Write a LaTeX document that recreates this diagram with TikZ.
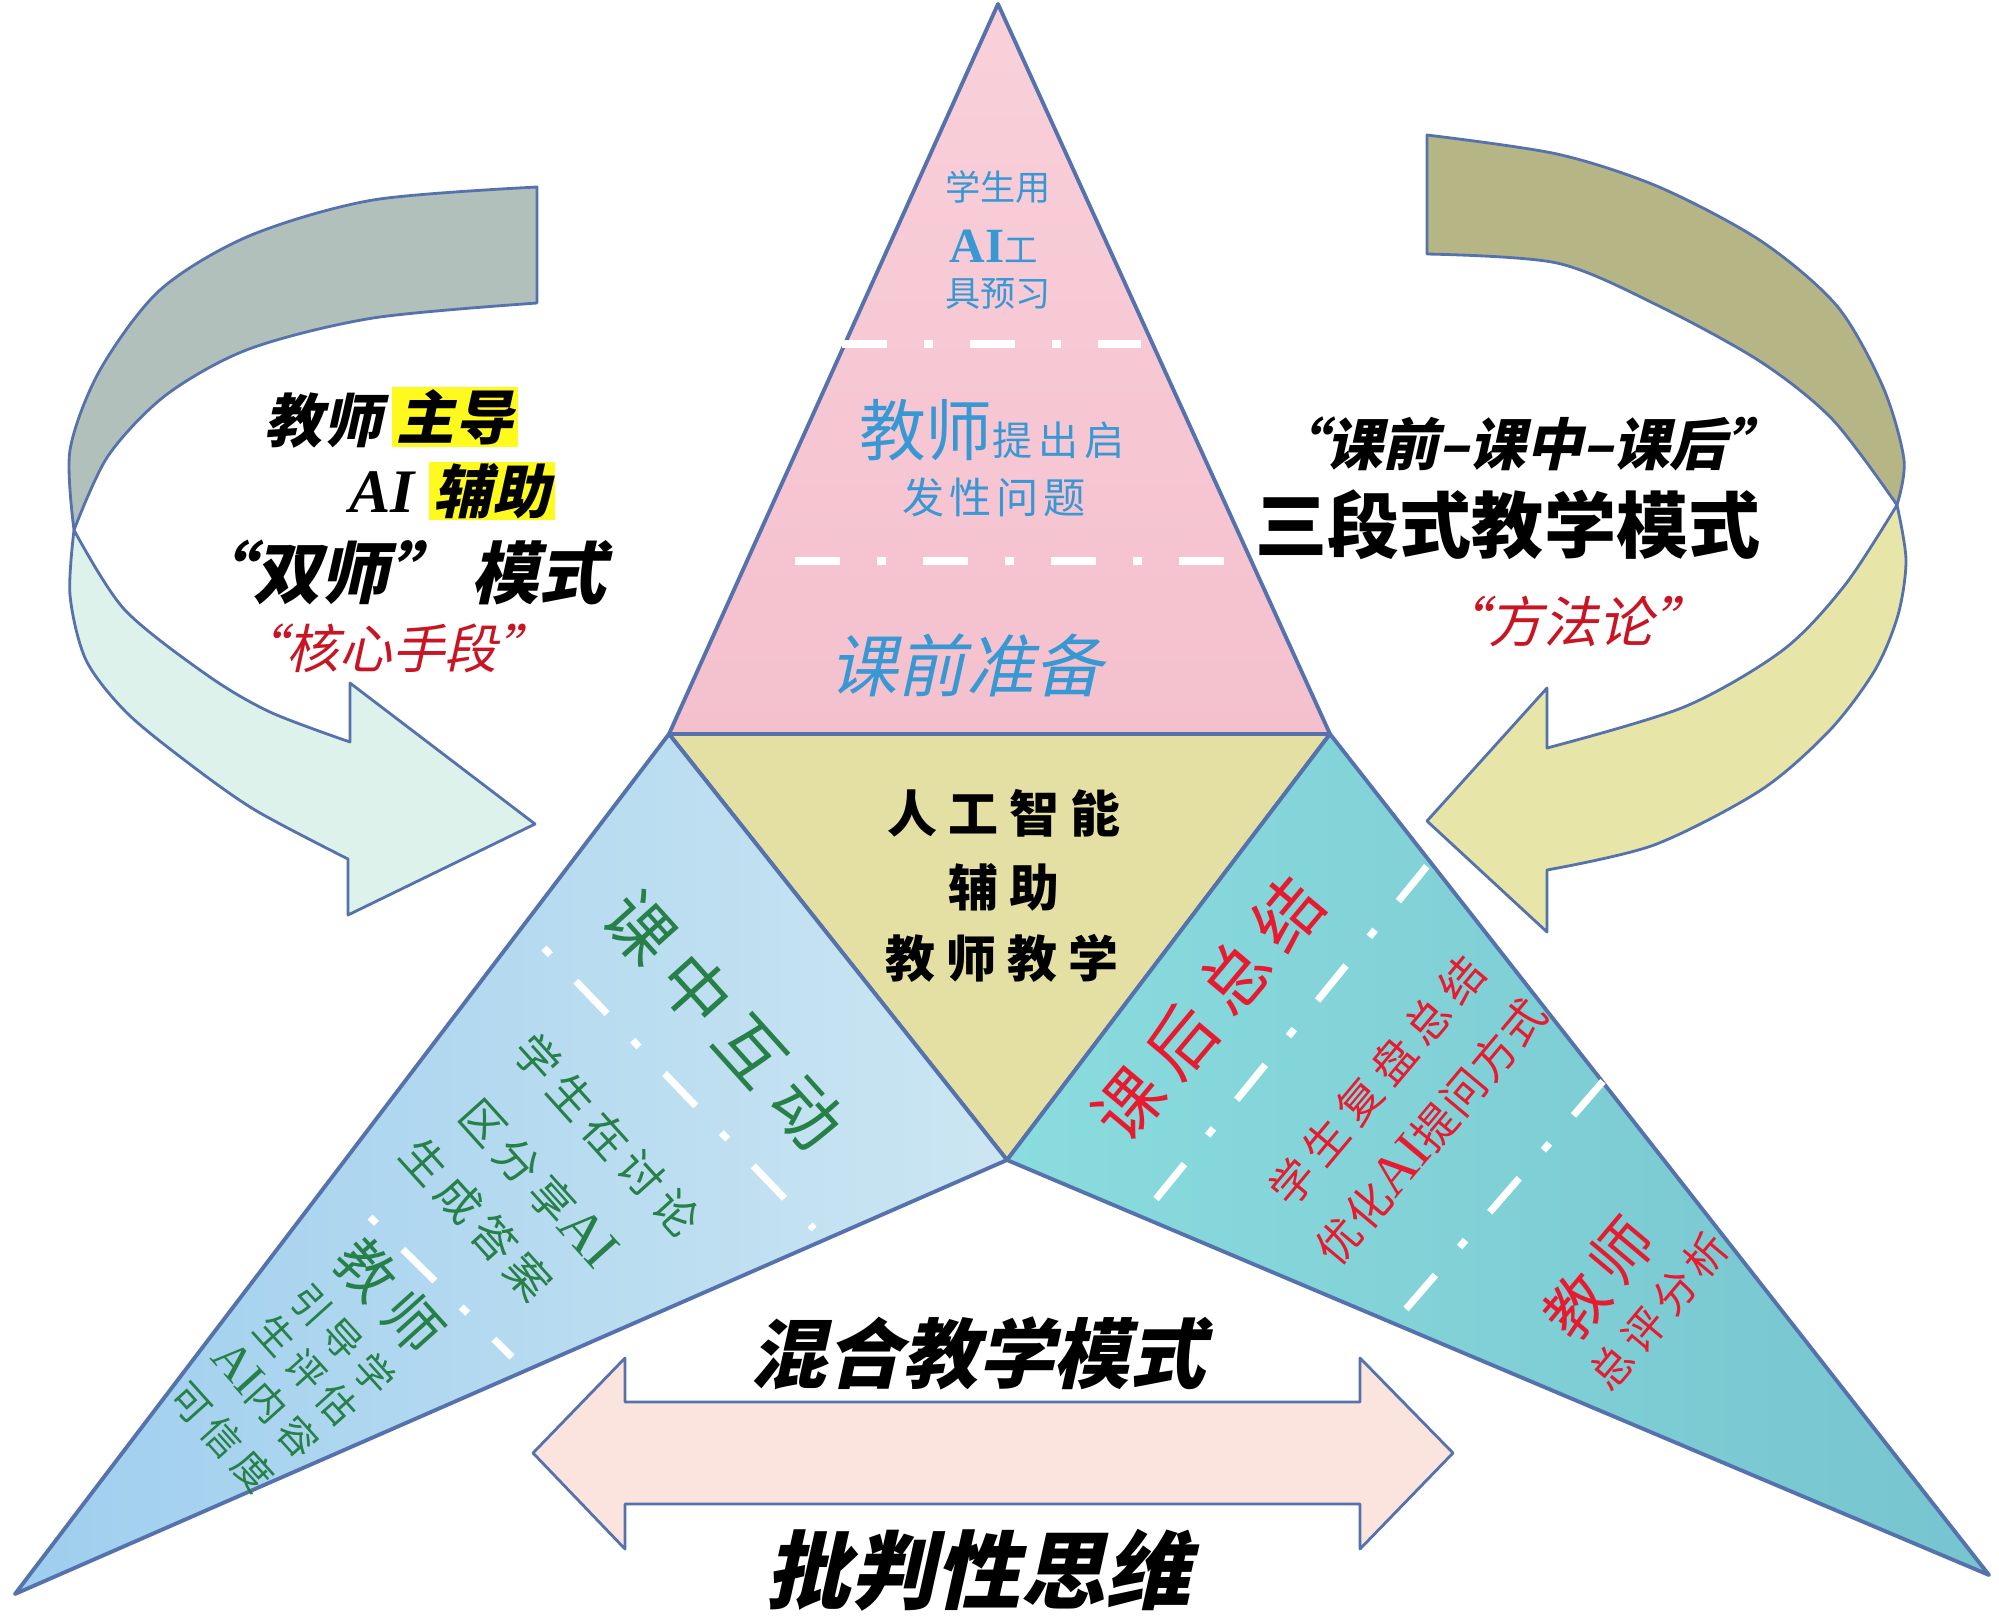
\documentclass[tikz,border=0pt]{standalone}
\usepackage{fontspec}
\usepackage{xcolor}
\usepackage{tikz}
\usetikzlibrary{positioning}
\newfontfamily\cjk{Noto Sans CJK SC}
\newfontfamily\cjkit{Noto Sans CJK SC}[FakeSlant=0.22]
\newfontfamily\latn{Liberation Serif}
\newcommand{\fsz}[1]{\fontsize{#1}{#1}\selectfont}
\newcommand{\trk}[1]{\addfontfeature{LetterSpace=#1}}
\definecolor{edgeblue}{RGB}{86,114,172}
\definecolor{pinktop}{RGB}{249,208,218}
\definecolor{pinkfill}{RGB}{244,192,205}
\definecolor{corefill}{RGB}{228,224,164}
\definecolor{bluetri}{RGB}{204,230,242}
\definecolor{bluetip}{RGB}{158,206,238}
\definecolor{tealtri}{RGB}{138,220,222}
\definecolor{tealtip}{RGB}{118,196,207}
\definecolor{sagedark}{RGB}{177,192,186}
\definecolor{mintlight}{RGB}{222,242,236}
\definecolor{olivedark}{RGB}{182,181,133}
\definecolor{olivelight}{RGB}{231,229,168}
\definecolor{arrowpink}{RGB}{252,228,222}
\definecolor{prepblue}{RGB}{55,152,212}
\definecolor{midgreen}{RGB}{38,128,72}
\definecolor{postred}{RGB}{232,26,48}
\definecolor{quotered}{RGB}{200,20,35}
\definecolor{hlyellow}{RGB}{255,250,30}
\tikzset{
  ribbon/.style={draw=edgeblue, line width=0.8pt, line join=round},
  facet/.style={draw=edgeblue, line width=1.1pt, line join=round},
  cut/.style={white, line width=2pt, dash pattern=on 12.8pt off 10.5pt on 2.6pt off 10.5pt},
  cutdot/.style={cut, dash phase=23.3pt},
  word/.style={inner sep=0pt, font=\cjk},
  slant/.style={inner sep=0pt, font=\cjkit},
}

\begin{document}
\begin{tikzpicture}[x=0.01cm, y=-0.01cm]
  \useasboundingbox (0,0) rectangle (1999,1617);
  \coordinate (apex) at (998,4);
  \coordinate (bl) at (669,734);
  \coordinate (br) at (1330,734);
  \coordinate (mid) at (1007,1160);
  \coordinate (ltip) at (15,1594);
  \coordinate (rtip) at (1989,1575);

  % loops
  \filldraw[ribbon, fill=sagedark] plot[smooth] coordinates {(537,187) (373,200) (249,236) (160,290) (100,370) (70,450) (74,530)}
    -- plot[smooth] coordinates {(74,530) (108,456) (166,395) (249,349) (373,318) (537,303)} -- cycle;
  \filldraw[ribbon, fill=mintlight] plot[smooth] coordinates {(74,530) (70,595) (86,660) (126,712) (187,762) (255,810) (348,859)}
    -- (348,915) -- (535,824) -- (350,683) -- (350,742)
    -- plot[smooth] coordinates {(350,742) (270,712) (207,675) (124,609) (74,530)} -- cycle;
  \filldraw[ribbon, fill=olivedark] plot[smooth] coordinates {(1427,135) (1557,154) (1659,187) (1761,241) (1837,306) (1883,387) (1904,460) (1897,505)}
    -- plot[smooth] coordinates {(1897,505) (1833,420) (1761,362) (1659,306) (1557,263) (1427,254)} -- cycle;
  \filldraw[ribbon, fill=olivelight] plot[smooth] coordinates {(1897,505) (1906,560) (1898,615) (1875,670) (1830,730) (1761,790) (1654,845) (1547,870)}
    -- (1547,932) -- (1427,821) -- (1547,688) -- (1547,748)
    -- plot[smooth] coordinates {(1547,748) (1684,707) (1783,650) (1845,585) (1897,505)} -- cycle;

  % pyramid
  \path[facet, top color=pinktop, bottom color=pinkfill] (apex) -- (bl) -- (br) -- cycle;
  \path[facet, fill=corefill] (bl) -- (br) -- (mid) -- cycle;
  \path[facet, left color=bluetip, right color=bluetri] (bl) -- (ltip) -- (mid) -- cycle;
  \path[facet, left color=tealtri, right color=tealtip] (br) -- (mid) -- (rtip) -- cycle;

  \filldraw[ribbon, fill=arrowpink] (533,1453) -- (625,1358) -- (625,1402) -- (1360,1402) -- (1360,1358) -- (1453,1453)
    -- (1360,1549) -- (1360,1504) -- (625,1504) -- (625,1549) -- cycle;

  \draw[cut] (842,344) -- (1141,344);
  \draw[cut] (795,561) -- (1230,561);
  \draw[cutdot] (544,948) -- (814,1229);
  \draw[cutdot] (370,1217) -- (512,1357);
  \draw[cut] (1156,1199) -- (1427,866);
  \draw[cut] (1406,1309) -- (1605,1079);

  % before class
  \node[word, text=prepblue] (pre1) at (998,187) {\fsz{10}学生用};
  \node[word, text=prepblue] (pre2) at (994,246) {{\latn\bfseries\fsz{14}AI}\fsz{9.5}工};
  \node[word, text=prepblue] (pre3) at (998,294) {\fsz{10}具预习};
  \node[word, text=prepblue] (pre4) at (992,430) {\fsz{19}教师\fsz{11.4}\trk{15}提出启};
  \node[word, text=prepblue] (pre5) at (994,497) {\fsz{12}\trk{12}发性问题};
  \node[slant, text=prepblue] (pre6) at (966,665) {\fsz{19.4}课前准备};

  \node[word] (core1) at (1004,813) {\bfseries\fsz{14.2}\trk{22}人工智能};
  \node[word] (core2) at (1004,887) {\bfseries\fsz{14.2}\trk{22}辅助};
  \node[word] (core3) at (1002,958) {\bfseries\fsz{14.2}\trk{22}教师教学};

  % in class
  \node[word, text=midgreen, rotate=-48] (mid1) at (724,1020) {\fsz{19.3}\trk{22}课中互动};
  \foreach \n/\x/\y/\t in {2/607/1135/学生在讨论, 3/538/1183/{区分享{\latn\fsz{16}AI}}, 4/477/1219/生成答案}
    \node[word, text=midgreen, rotate=-48] (mid\n) at (\x,\y) {\fsz{12.5}\trk{18}\t};
  \node[word, text=midgreen, rotate=-48] (mid5) at (390,1296) {\fsz{16.5}\trk{22}教师};
  \foreach \n/\x/\y/\t in {6/343/1339/引导学, 7/306/1370/生评估, 8/266/1400/{{\latn\fsz{14}AI}内容}, 9/222/1437/可信度}
    \node[word, text=midgreen, rotate=-48] (mid\n) at (\x,\y) {\fsz{11}\trk{20}\t};

  % after class
  \node[word, text=postred, rotate=50] (post1) at (1208,1009) {\fsz{19.3}\trk{22}课后总结};
  \node[word, text=postred, rotate=50] (post2) at (1377,1081) {\fsz{12.5}\trk{20}学生复盘总结};
  \node[word, text=postred, rotate=50] (post3) at (1431,1131) {\fsz{12.5}\trk{4}优化{\latn\fsz{16}AI}提问方式};
  \node[word, text=postred, rotate=50] (post4) at (1599,1278) {\fsz{17.6}\trk{15}教师};
  \node[word, text=postred, rotate=50] (post5) at (1659,1311) {\fsz{12}\trk{15}总评分析};

  % side captions
  \node[slant] (duo1) at (323,421) {\bfseries\fsz{16.5}教师};
  \node[slant, fill=hlyellow, minimum width=1.25cm, minimum height=0.6cm] (duo2) at (455,417) {\bfseries\fsz{16.5}主导};
  \node[word] (duo3) at (382,492) {\latn\bfseries\itshape\fsz{17.6}AI};
  \node[slant, fill=hlyellow, minimum width=1.25cm, minimum height=0.58cm] (duo4) at (492,491) {\bfseries\fsz{16.5}辅助};
  \node[slant] (duo5) at (396,572) {\bfseries\fsz{19.2}“双师” 模式};
  \node[slant, text=quotered] (duo6) at (392,648) {\fsz{15}“核心手段”};

  \node[slant] (tri1) at (1526,444) {\bfseries\fsz{16}“课前–课中–课后”};
  \node[word] (tri2) at (1508,525) {\bfseries\fsz{20.5}三段式教学模式};
  \node[slant, text=quotered] (tri3) at (1571,621) {\fsz{15.6}“方法论”};

  \node[slant] (mix) at (978,1353) {\bfseries\fsz{21.6}混合教学模式};
  \node[slant] (crit) at (978,1570) {\bfseries\fsz{24.2}批判性思维};
\end{tikzpicture}
\end{document}
